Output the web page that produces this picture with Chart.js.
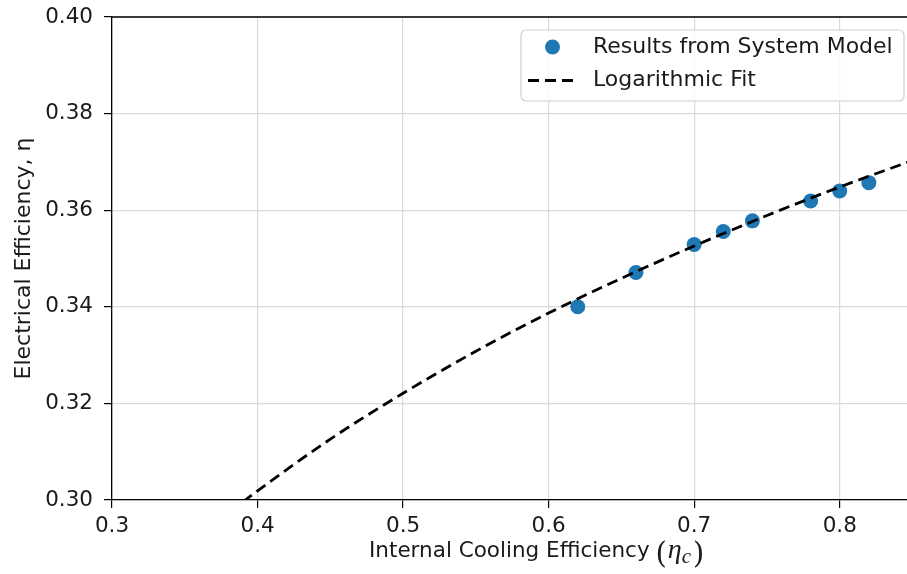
<!DOCTYPE html>
<html>
<head>
<meta charset="utf-8">
<script src="https://cdn.jsdelivr.net/npm/chart.js@4/dist/chart.umd.min.js"></script>
<style>
  html, body { margin: 0; padding: 0; background: #fff; overflow: hidden; }
  #wrap { width: 920px; height: 574px; position: relative; }
</style>
</head>
<body>
<div id="wrap"><canvas id="eff-chart"></canvas></div>
<script>
// values
var modelX = [0.62, 0.66, 0.70, 0.72, 0.74, 0.78, 0.80, 0.82];
var modelY = [0.3400, 0.3471, 0.3529, 0.3556, 0.3578, 0.3619, 0.3640, 0.3657];

// dashed fit curve
var fitX = [0.39, 0.40, 0.45, 0.50, 0.55, 0.60, 0.65, 0.70, 0.75, 0.80, 0.85];
var fitY = [0.2996, 0.3019, 0.3126, 0.3221, 0.3308, 0.3387, 0.3459, 0.3526, 0.3589, 0.3648, 0.3703];

var xTicks = [0.3, 0.4, 0.5, 0.6, 0.7, 0.8];
var yTicks = [0.30, 0.32, 0.34, 0.36, 0.38, 0.40];

var seriesNames = ['Results from System Model', 'Logarithmic Fit'];

var FONT = '"DejaVu Sans", sans-serif';

function toPoints(xs, ys){
  var pts = [];
  for (var i = 0; i < xs.length; i++) {
    pts.push({x: xs[i], y: ys[i]});
  }
  return pts;
}

// top spine, x label with math part, legend box
var extras = {
  id: 'extras',
  afterDraw: function(chart){
    var ctx = chart.ctx;
    var a = chart.chartArea;
    ctx.save();
    ctx.strokeStyle = '#000';
    ctx.lineWidth = 1.3;
    ctx.beginPath();
    ctx.moveTo(a.left, a.top);
    ctx.lineTo(a.right + 1, a.top);
    ctx.stroke();

    // x axis label
    ctx.fillStyle = '#1a1a1a';
    ctx.textBaseline = 'alphabetic';
    ctx.textAlign = 'left';
    var x = a.left + 257;
    var base = 557;
    ctx.font = '21.5px ' + FONT;
    var main = 'Internal Cooling Efficiency ';
    ctx.fillText(main, x, base);
    x += ctx.measureText(main).width - 1;
    ctx.font = '29px "DejaVu Serif", serif';
    ctx.fillText('(', x, base + 6);
    x += ctx.measureText('(').width + 1;
    ctx.font = 'italic 28px "Liberation Serif", serif';
    ctx.fillText('\u03B7', x, base + 1);
    x += ctx.measureText('\u03B7').width;
    ctx.font = 'italic 21px "Liberation Serif", serif';
    ctx.fillText('c', x, base + 6);
    x += ctx.measureText('c').width + 2;
    ctx.font = '29px "DejaVu Serif", serif';
    ctx.fillText(')', x, base + 6);

    // legend
    var lx = 521, ly = 30, lw = 383, lh = 71, r = 5;
    ctx.fillStyle = 'rgba(255,255,255,0.85)';
    ctx.strokeStyle = '#d0d0d0';
    ctx.lineWidth = 1.2;
    ctx.beginPath();
    ctx.roundRect(lx, ly, lw, lh, r);
    ctx.fill();
    ctx.stroke();

    var ds = chart.data.datasets;
    ctx.fillStyle = ds[0].backgroundColor;
    ctx.beginPath();
    ctx.arc(552.5, 47, 7.5, 0, Math.PI * 2);
    ctx.fill();

    ctx.strokeStyle = ds[1].borderColor;
    ctx.lineWidth = 2.8;
    ctx.setLineDash([11, 6]);
    ctx.beginPath();
    ctx.moveTo(528, 80.5);
    ctx.lineTo(574, 80.5);
    ctx.stroke();
    ctx.setLineDash([]);

    ctx.fillStyle = '#1a1a1a';
    ctx.font = '22px ' + FONT;
    ctx.textBaseline = 'middle';
    ctx.fillText(ds[0].label, 593, 47);
    ctx.fillText(ds[1].label, 593, 80);
    ctx.restore();
  }
};

function createChart(){
  var ctx = document.getElementById('eff-chart').getContext('2d');
  var chart = new Chart(ctx, {
    type: 'scatter',
    data: {
      datasets: [
        {
          label: seriesNames[0],
          data: toPoints(modelX, modelY),
          backgroundColor: '#1f77b4',
          borderColor: '#1f77b4',
          pointRadius: 7.5,
          pointHoverRadius: 7.5,
          pointBorderWidth: 0,
          showLine: false,
          order: 2
        },
        {
          label: seriesNames[1],
          data: toPoints(fitX, fitY),
          borderColor: '#000000',
          backgroundColor: '#000000',
          borderWidth: 2.8,
          borderDash: [11, 6],
          pointRadius: 0,
          showLine: true,
          cubicInterpolationMode: 'monotone',
          order: 1
        }
      ]
    },
    options: {
      responsive: true,
      maintainAspectRatio: false,
      animation: false,
      layout: { padding: { top: 17, right: 7, left: 0, bottom: 0 } },
      plugins: {
        legend: { display: false },
        tooltip: { enabled: false }
      },
      scales: {
        x: {
          type: 'linear',
          min: 0.3,
          max: 0.85,
          afterBuildTicks: function(scale){
            scale.ticks = xTicks.map(function(v){ return {value: v}; });
          },
          afterFit: function(scale){
            scale.height = 74;
            scale.paddingLeft = 0;
            scale.paddingRight = 0;
          },
          ticks: {
            font: { family: FONT, size: 21.5 },
            color: '#1a1a1a',
            padding: 6,
            maxRotation: 0,
            callback: function(v){ return v.toFixed(1); }
          },
          grid: {
            color: '#d9d9d9',
            lineWidth: 1.2,
            tickColor: '#000',
            tickLength: 8
          },
          border: { color: '#000', width: 1.3 }
        },
        y: {
          type: 'linear',
          min: 0.30,
          max: 0.40,
          afterBuildTicks: function(scale){
            scale.ticks = yTicks.map(function(v){ return {value: v}; });
          },
          afterFit: function(scale){
            scale.width = 112;
            scale.paddingTop = 0;
            scale.paddingBottom = 0;
          },
          ticks: {
            font: { family: FONT, size: 21.5 },
            color: '#1a1a1a',
            padding: 11,
            callback: function(v){ return v.toFixed(2); }
          },
          grid: {
            color: '#d9d9d9',
            lineWidth: 1.2,
            tickColor: '#000',
            tickLength: 8
          },
          border: { color: '#000', width: 1.3 },
          title: {
            display: true,
            text: 'Electrical Efficiency, \u03B7',
            font: { family: FONT, size: 22 },
            color: '#1a1a1a',
            padding: { top: 11, bottom: 0 }
          }
        }
      }
    },
    plugins: [extras]
  });
  return chart;
}

document.addEventListener('DOMContentLoaded', function(){
  createChart();
});
</script>
</body>
</html>
